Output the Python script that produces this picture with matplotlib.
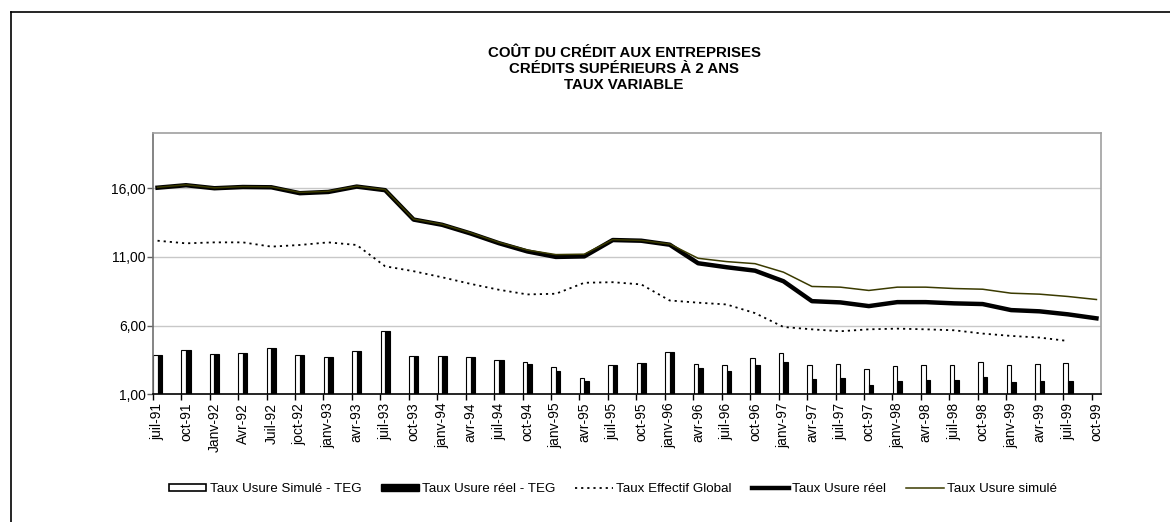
import numpy as np
import matplotlib
matplotlib.use('Agg')
import matplotlib.pyplot as plt
from matplotlib.lines import Line2D
from matplotlib.patches import Patch

plt.rcParams['font.family'] = ['Liberation Sans', 'DejaVu Sans']

# Categories (dates) and the series
labels = ['juil-91', 'oct-91', 'Janv-92', 'Avr-92', 'Juil-92', 'joct-92', 'janv-93', 'avr-93',
          'juil-93', 'oct-93', 'janv-94', 'avr-94', 'juil-94', 'oct-94', 'janv-95', 'avr-95',
          'juil-95', 'oct-95', 'janv-96', 'avr-96', 'juil-96', 'oct-96', 'janv-97', 'avr-97',
          'juil-97', 'oct-97', 'janv-98', 'avr-98', 'juil-98', 'oct-98', 'janv-99', 'avr-99',
          'juil-99', 'oct-99']

usure_reel = [16.04, 16.22, 16.00, 16.09, 16.07, 15.64, 15.73, 16.12, 15.86, 13.72, 13.34, 12.71,
              12.00, 11.40, 11.00, 11.04, 12.23, 12.18, 11.89, 10.54, 10.25, 10.00, 9.23, 7.78,
              7.69, 7.42, 7.71, 7.71, 7.62, 7.57, 7.13, 7.04, 6.82, 6.53]

usure_simule = [16.07, 16.25, 16.03, 16.12, 16.10, 15.70, 15.78, 16.15, 15.90, 13.75, 13.38, 12.76,
                12.06, 11.50, 11.17, 11.20, 12.26, 12.20, 11.94, 10.90, 10.66, 10.51, 9.89, 8.85,
                8.80, 8.56, 8.80, 8.80, 8.70, 8.65, 8.36, 8.29, 8.12, 7.90]

teg = [12.18, 11.99, 12.06, 12.06, 11.75, 11.87, 12.06, 11.87, 10.32, 9.96, 9.52, 9.04,
       8.61, 8.27, 8.32, 9.12, 9.16, 9.00, 7.83, 7.67, 7.54, 6.91, 5.90, 5.73,
       5.59, 5.73, 5.78, 5.73, 5.66, 5.42, 5.25, 5.13, 4.88, np.nan]

ecart_simule = [3.87, 4.23, 3.94, 4.04, 4.38, 3.85, 3.70, 4.16, 5.59, 3.78, 3.80, 3.70,
                3.51, 3.36, 2.96, 2.16, 3.10, 3.25, 4.11, 3.17, 3.15, 3.61, 4.04, 3.10,
                3.17, 2.81, 3.03, 3.10, 3.10, 3.32, 3.10, 3.17, 3.25, np.nan]

ecart_reel = [3.87, 4.23, 3.94, 4.04, 4.38, 3.85, 3.70, 4.16, 5.59, 3.78, 3.80, 3.70,
              3.51, 3.20, 2.71, 1.96, 3.10, 3.25, 4.11, 2.88, 2.71, 3.12, 3.36, 2.09,
              2.16, 1.70, 1.96, 2.04, 2.04, 2.23, 1.89, 1.96, 1.96, np.nan]

y_ticks = [1, 6, 11, 16]
y_tick_labels = ['1,00', '6,00', '11,00', '16,00']

olive = '#3a3a00'
x = np.arange(len(labels))

fig = plt.figure(figsize=(11.7, 5.22), dpi=100)
ax = fig.add_axes([152.7 / 1170, 1 - 394.3 / 522, (1101 - 152.7) / 1170, (394.3 - 133.3) / 522])

# Gridlines behind everything
for yv in y_ticks[1:]:
    ax.axhline(yv, color='#c8c8c8', lw=1, zorder=0)

# Bars (spread between usury rate and TEG)
bw = 0.16
ax.bar(x - bw / 2, ecart_simule, width=bw, color='white', edgecolor='black', linewidth=0.8, zorder=2)
ax.bar(x + bw / 2, ecart_reel, width=bw, color='black', edgecolor='black', linewidth=0.8, zorder=2)

# Lines
ax.plot(x, teg, color='black', lw=1.3, linestyle=(0, (1.2, 2.2)), zorder=3)
ax.plot(x, usure_reel, color='black', lw=3.2, zorder=4)
ax.plot(x, usure_simule, color=olive, lw=1.1, zorder=5)

ax.set_xlim(-0.17, len(labels) - 1 + 0.16)
ax.set_ylim(1, 20)

ax.set_yticks(y_ticks)
ax.set_yticklabels(y_tick_labels, fontsize=10)
ax.tick_params(axis='y', length=4, width=1, color='#606060', pad=1)

# tick marks sit at the left edge of each bar pair, labels at the category
ax.set_xticks(x - 0.17)
ax.set_xticklabels([])
ax.tick_params(axis='x', which='major', length=4, width=1, color='black')
ax.set_xticks(x, minor=True)
ax.set_xticklabels(labels, minor=True, rotation=90, fontsize=10)
ax.tick_params(axis='x', which='minor', length=0, pad=6)

ax.spines['top'].set_color('#a0a0a0')
ax.spines['right'].set_color('#a0a0a0')
ax.spines['left'].set_color('#707070')
ax.spines['bottom'].set_color('black')
for s in ax.spines.values():
    s.set_linewidth(1.2)

# Title
fig.text(624 / 1170, 1 - 69 / 522,
         'COÛT DU CRÉDIT AUX ENTREPRISES\nCRÉDITS SUPÉRIEURS À 2 ANS\nTAUX VARIABLE',
         ha='center', va='center', fontsize=10.8, fontweight='bold', linespacing=1.17)

# Legend
handles = [
    Patch(facecolor='white', edgecolor='black', linewidth=1.2),
    Patch(facecolor='black', edgecolor='black'),
    Line2D([], [], color='black', lw=1.3, linestyle=(0, (1.2, 2.2))),
    Line2D([], [], color='black', lw=3.2),
    Line2D([], [], color=olive, lw=1.1),
]
names = ['Taux Usure Simulé - TEG', 'Taux Usure réel - TEG', 'Taux Effectif Global',
         'Taux Usure réel', 'Taux Usure simulé']
fig.legend(handles, names, loc='center', bbox_to_anchor=(613 / 1170, 1 - 489 / 522), ncol=5,
           frameon=False, fontsize=9.6, handlelength=2.8, handleheight=0.45,
           handletextpad=0.25, columnspacing=1.5)

# Outer frame (only top and left edges show)
fig.add_artist(Line2D([10.5 / 1170, 1], [1 - 12 / 522, 1 - 12 / 522], color='black', lw=1.2))
fig.add_artist(Line2D([10.5 / 1170, 10.5 / 1170], [0, 1 - 12 / 522], color='black', lw=1.2))

plt.savefig('out.png', dpi=100)
